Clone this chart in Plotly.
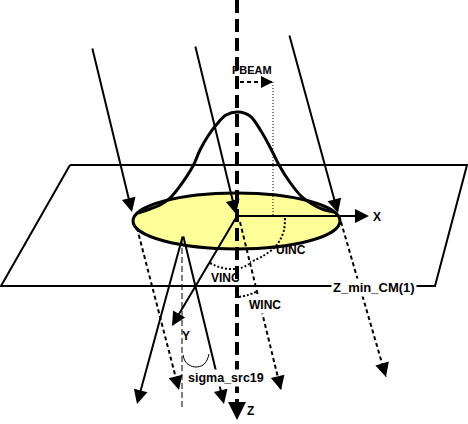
import math
import plotly.graph_objects as go

W, H = 468, 424

# ---- geometry (pixel coords, y grows downward) ----
PLANE_X = [70, 467, 435, 1, 70]
PLANE_Y = [165, 165, 286, 286, 165]

SPOT_X = [133, 340]          # yellow spot, left/right extent
SPOT_Y = [193, 249]          # yellow spot, top/bottom extent

GAUSS_X = [138, 150, 160, 170, 180, 193, 200, 208, 217, 226, 238,
           250, 261, 271, 279, 289, 301, 312, 322, 334]
GAUSS_Y = [213, 209, 205, 198, 186, 166, 150, 136, 124, 115, 112,
           116, 131, 149, 165, 181, 196, 204, 209, 212]

IN_X0 = [92, 195, 289]       # incoming rays
IN_Y0 = [47, 45, 34]
IN_X1 = [132, 236, 338]
IN_Y1 = [212, 214, 213]

OUT_X0 = [137, 240, 341]     # rays continued below the plane (dashed)
OUT_Y0 = [228, 222, 222]
OUT_X1 = [179, 281, 386]
OUT_Y1 = [390, 390, 377]

APEX = [183, 235]            # divergence cone
CONE_X1 = [137, 224]
CONE_Y1 = [404, 404]
Y_LINE_Y1 = 408
SIGMA_ARC_X = [183, 185, 189, 196, 203, 207, 209]
SIGMA_ARC_Y = [355, 361, 365, 367, 365, 360, 354]

ORIGIN = [237, 216]
Z_END = 420
X_END = 369
V_END = [172, 326]
PBEAM_X = 273
PBEAM_Y = 82

UINC_X = [285, 284, 280, 275, 263, 250]
UINC_Y = [218, 230, 240, 247, 256, 262]
VINC_X = [210, 219, 230, 241, 249]
VINC_Y = [263, 267, 269, 268, 264]
WINC_X = [239, 248, 258]
WINC_Y = [297, 295, 291]

LABELS = ["PBEAM", "X", "UINC", "VINC", "WINC", "Z_min_CM(1)",
          "Y", "sigma_src19", "Z"]
LABEL_X = [252, 377, 291, 225, 265, 374, 186, 226, 250]
LABEL_Y = [70, 217, 250, 278, 305, 287, 336, 378, 411]
LABEL_SIZE = [11, 12, 12, 12, 12, 13, 12, 12.5, 12]
LABEL_BOXED = ["WINC", "Z_min_CM(1)", "sigma_src19"]   # these break the line under them

fig = go.Figure()


def seg(xs, ys, width=2, dash="solid", shape="linear"):
    fig.add_trace(go.Scatter(x=xs, y=ys, mode="lines", hoverinfo="skip",
                             line=dict(color="black", width=width, dash=dash, shape=shape)))


def head(x0, y0, x1, y1, width=2, size=1.4, stub=None):
    # arrowhead at (x1, y1); if stub, only a short solid piece before the tip
    if stub:
        d = math.hypot(x1 - x0, y1 - y0)
        x0 = x1 - (x1 - x0) * stub / d
        y0 = y1 - (y1 - y0) * stub / d
    fig.add_annotation(x=x1, y=y1, ax=x0, ay=y0, xref="x", yref="y",
                       axref="x", ayref="y", text="", showarrow=True,
                       arrowhead=2, arrowsize=size, arrowwidth=width,
                       arrowcolor="black", standoff=0)


# yellow spot
fig.add_shape(type="circle", x0=SPOT_X[0], x1=SPOT_X[1], y0=SPOT_Y[0], y1=SPOT_Y[1],
              fillcolor="#ffff99", line=dict(color="black", width=3), layer="below")

# plane
seg(PLANE_X, PLANE_Y, width=2)

# gaussian profile
seg(GAUSS_X, GAUSS_Y, width=3, shape="spline")

# incoming beams
for i in range(3):
    head(IN_X0[i], IN_Y0[i], IN_X1[i], IN_Y1[i], width=2)

# outgoing dashed beams
for i in range(3):
    seg([OUT_X0[i], OUT_X1[i]], [OUT_Y0[i], OUT_Y1[i]], width=2, dash="4px,3px")
    head(OUT_X0[i], OUT_Y0[i], OUT_X1[i], OUT_Y1[i], width=2, stub=10)

# cone
for i in range(2):
    head(APEX[0], APEX[1], CONE_X1[i], CONE_Y1[i], width=2)
seg([APEX[0] - 1, APEX[0] - 1], [APEX[1] + 4, Y_LINE_Y1], width=1, dash="6px,3px")
seg(SIGMA_ARC_X, SIGMA_ARC_Y, width=1, shape="spline")

# axes through the origin
seg([ORIGIN[0], ORIGIN[0]], [0, Z_END - 8], width=4, dash="13px,6px")
head(ORIGIN[0], 0, ORIGIN[0], Z_END, width=3, size=1.2, stub=10)
head(ORIGIN[0], ORIGIN[1], X_END, ORIGIN[1], width=2)
head(ORIGIN[0], ORIGIN[1], V_END[0], V_END[1], width=2)

# PBEAM offset
seg([ORIGIN[0] + 3, PBEAM_X], [PBEAM_Y, PBEAM_Y], width=2, dash="4px,3px")
head(ORIGIN[0], PBEAM_Y, PBEAM_X, PBEAM_Y, width=2, size=1.2, stub=8)
seg([PBEAM_X, PBEAM_X], [PBEAM_Y, ORIGIN[1]], width=1, dash="1px,2px")

# angle arcs
seg(UINC_X, UINC_Y, width=2, dash="2px,2px", shape="spline")
seg(VINC_X, VINC_Y, width=2, dash="2px,2px", shape="spline")
seg(WINC_X, WINC_Y, width=2, dash="2px,2px", shape="spline")

for t, x, y, s in zip(LABELS, LABEL_X, LABEL_Y, LABEL_SIZE):
    bg = "white" if t in LABEL_BOXED else "rgba(0,0,0,0)"
    fig.add_annotation(x=x, y=y, xref="x", yref="y", text=t, showarrow=False,
                       xanchor="center", yanchor="middle", bgcolor=bg, borderpad=1,
                       font=dict(family="Liberation Sans", size=s, color="black", weight="bold"))

fig.update_layout(
    width=W, height=H,
    margin=dict(l=0, r=0, t=0, b=0),
    paper_bgcolor="white", plot_bgcolor="white",
    showlegend=False,
    xaxis=dict(range=[0, W], visible=False, fixedrange=True),
    yaxis=dict(range=[H, 0], visible=False, fixedrange=True),
)

# page body has a default margin; drop it so the figure sits at 0,0
fig.write_html("out.html", config={"displayModeBar": False},
               post_script="document.body.style.margin='0';")
